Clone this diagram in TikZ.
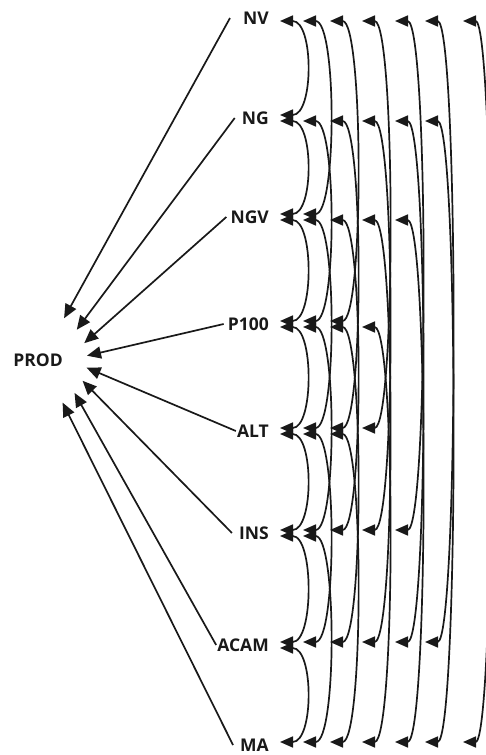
\documentclass[tikz,border=0pt]{standalone}
\usepackage{fontspec}
\setmainfont{Open Sans}
\usetikzlibrary{arrows.meta}
\begin{document}
\begin{tikzpicture}[x=1pt,y=1pt,
  var/.style={font=\bfseries\fontsize{17.5}{20}\selectfont, inner sep=1pt, text=black!90},
  reg/.style={line width=1.7pt, black!90, -{Triangle[length=14pt,width=12pt]}},
  cov/.style={line width=1.7pt, black!90, {Triangle[length=13pt,width=11pt]}-{Triangle[length=13pt,width=11pt]}},
]
\useasboundingbox (0,0) rectangle (486,-755);
\fill[white] (0,0) rectangle (486,-755);
\node[var, circle, minimum size=98pt] (PROD) at (38,-360) {PROD};
\foreach \n/\y in {NV/18,NG/118,NGV/217,P100/324,ALT/431,INS/533,ACAM/645,MA/745}{
  \node[var, anchor=east] (\n) at (270,-\y) {\n};
}
\foreach \n/\s/\a in {NV/-12/58,NG/-6/38,NGV/-3/20,P100/-3/5,ALT/0/-9,INS/-6/-25,ACAM/0/-42,MA/-6/-60}{
  \draw[reg] ([xshift=\s pt]\n.west) -- (PROD.\a);
}
\foreach \a [count=\i] in {NV,NG,NGV,P100,ALT,INS,ACAM,MA}{
  \foreach \b [count=\j] in {NV,NG,NGV,P100,ALT,INS,ACAM,MA}{
    \ifnum\j>\i
      \pgfmathsetmacro\off{{10,33,60,92,125,155,193}[\j-\i-1]}
      \draw[cov] ([xshift=\off pt, yshift=-3pt]\a.east) .. controls +(34,0) and +(34,0) .. ([xshift=\off pt, yshift=3pt]\b.east);
    \fi
  }
}
\end{tikzpicture}
\end{document}
